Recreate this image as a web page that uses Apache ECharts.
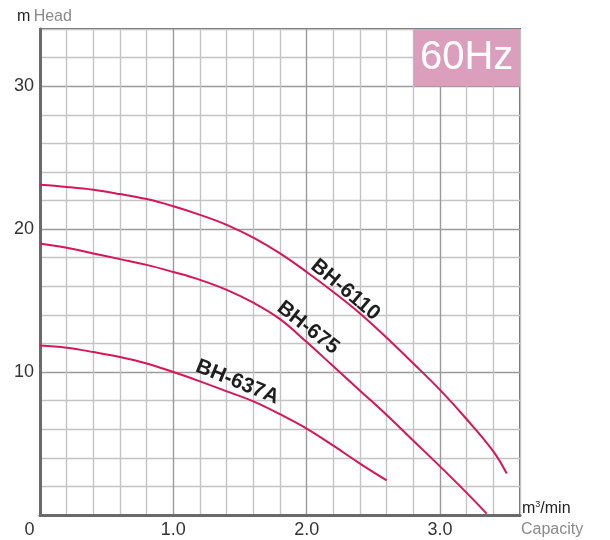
<!DOCTYPE html>
<html>
<head>
<meta charset="utf-8">
<script src="https://cdn.jsdelivr.net/npm/echarts@6/dist/echarts.min.js"></script>
<style>
html,body{margin:0;padding:0;background:#fff;}
#c{width:610px;height:540px;}
</style>
</head>
<body>
<div id="c"></div>
<script>
// Capacity (m3/min) and Head (m)
var x6110 = [0, 0.2, 0.4, 0.6, 0.8, 1.0, 1.2, 1.4, 1.6, 1.8, 2.0, 2.2, 2.4, 2.6, 2.8, 3.0, 3.2, 3.4, 3.5];
var y6110 = [23.1, 22.95, 22.75, 22.45, 22.1, 21.6, 21.0, 20.3, 19.4, 18.3, 17.0, 15.6, 14.1, 12.4, 10.6, 8.75, 6.7, 4.45, 2.9];
var x675 = [0, 0.2, 0.4, 0.6, 0.8, 1.0, 1.2, 1.4, 1.6, 1.8, 2.0, 2.2, 2.4, 2.6, 2.8, 3.0, 3.2, 3.35];
var y675 = [19.0, 18.7, 18.3, 17.9, 17.5, 17.0, 16.45, 15.75, 14.85, 13.7, 12.1, 10.4, 8.7, 7.0, 5.2, 3.4, 1.55, 0.1];
var x637 = [0, 0.2, 0.4, 0.6, 0.8, 1.0, 1.2, 1.4, 1.6, 1.8, 2.0, 2.2, 2.4, 2.6];
var y637 = [11.85, 11.7, 11.4, 11.05, 10.6, 10.0, 9.35, 8.65, 7.95, 7.05, 6.05, 4.85, 3.6, 2.42];
var seriesNames = ['BH-6110', 'BH-675', 'BH-637A'];
var xTickLabels = {0: '0', 1: '1.0', 2: '2.0', 3: '3.0'};
var yTickLabels = {10: '10', 20: '20', 30: '30'};
var freqLabel = '60Hz';

function pairs(xs, ys) { return xs.map(function (x, i) { return [x, ys[i]]; }); }

var curveColor = '#d5175a';
var splitColors = ['#9a9a9a', '#c4c4c4', '#c4c4c4', '#c4c4c4', '#c4c4c4'];
var fontFam = 'Liberation Sans, Arial, sans-serif';

function curve(name, data) {
  return {
    name: name, type: 'line', data: data, smooth: 0.4, symbol: 'none',
    lineStyle: {color: curveColor, width: 2}
  };
}

var chart = echarts.init(document.getElementById('c'));
var series = [
  curve(seriesNames[0], pairs(x6110, y6110)),
  curve(seriesNames[1], pairs(x675, y675)),
  curve(seriesNames[2], pairs(x637, y637))
];
series[0].markArea = {
  silent: true,
  itemStyle: {color: '#dc9ebd'},
  label: {show: true, position: 'inside', formatter: freqLabel, color: '#fff', fontSize: 40, fontFamily: fontFam},
  data: [[{xAxis: 2.8, yAxis: 30}, {xAxis: 3.6, yAxis: 34}]]
};

var headerGraphics = [
  {type: 'text', left: 17, top: 9, style: {text: '{a|m} {b|Head}', rich: {
    a: {fontSize: 16, fill: '#222', fontFamily: fontFam},
    b: {fontSize: 16, fill: '#8a8a8a', fontFamily: fontFam}}}},
  {type: 'text', left: 522, top: 500, style: {text: '{a|m}{s|3}{a|/min}', rich: {
    a: {fontSize: 16, fill: '#222', fontFamily: fontFam},
    s: {fontSize: 9, fill: '#222', fontFamily: fontFam, verticalAlign: 'top', padding: [0, 0, 8, 0]}}}},
  {type: 'text', left: 521, top: 522, style: {text: 'Capacity', fontSize: 16, fill: '#8a8a8a', fontFamily: fontFam}}
];

chart.setOption({
  animation: false,
  backgroundColor: '#fff',
  grid: {left: 40, right: 90, top: 29, bottom: 25, show: true, borderColor: '#6a6a6a', borderWidth: 2},
  xAxis: {
    type: 'value', min: 0, max: 3.6, interval: 0.2,
    axisLine: {show: true, lineStyle: {color: '#6a6a6a', width: 3}},
    axisTick: {show: false},
    splitLine: {show: true, lineStyle: {color: splitColors, width: 1.4}},
    axisLabel: {
      color: '#333', fontSize: 18, fontFamily: fontFam, margin: 6,
      formatter: function (v) {
        var r = Math.round(v * 10) / 10;
        if (r === 0) return '{z|0}';
        return xTickLabels[r] !== undefined && Math.abs(v - Math.round(v)) < 1e-6 ? xTickLabels[r] : '';
      },
      rich: {z: {fontSize: 18, color: '#333', fontFamily: fontFam, padding: [0, 21, 0, 0]}}
    }
  },
  yAxis: {
    type: 'value', min: 0, max: 34, interval: 2,
    axisLine: {show: true, lineStyle: {color: '#6a6a6a', width: 3}},
    axisTick: {show: false},
    splitLine: {show: true, lineStyle: {color: splitColors, width: 1.4}},
    axisLabel: {
      color: '#333', fontSize: 18, fontFamily: fontFam, margin: 6,
      formatter: function (v) { return yTickLabels[v] || ''; }
    }
  },
  graphic: headerGraphics,
  series: series
});

// curve name labels placed at data coordinates along each curve
var labelSpots = [
  {name: seriesNames[0], at: [2.29, 15.75], deg: 40},
  {name: seriesNames[1], at: [2.01, 13.1], deg: 38},
  {name: seriesNames[2], at: [1.48, 9.3], deg: 22}
];
var labelGraphics = labelSpots.map(function (s) {
  var p = chart.convertToPixel({gridIndex: 0}, s.at);
  return {type: 'text', x: p[0], y: p[1], rotation: -s.deg * Math.PI / 180, z: 10,
    style: {text: s.name, align: 'center', verticalAlign: 'middle', fontSize: 21, fontWeight: 'bold',
      fill: '#1e1e1e', fontFamily: fontFam}};
});
chart.setOption({graphic: headerGraphics.concat(labelGraphics)});
</script>
</body>
</html>
